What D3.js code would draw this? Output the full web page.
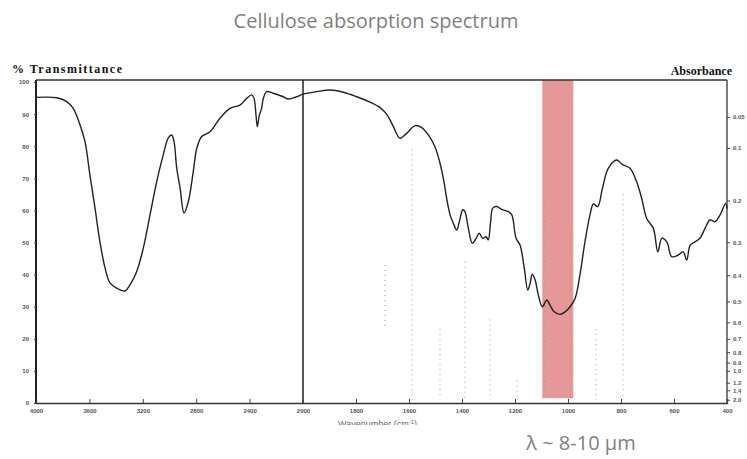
<!DOCTYPE html>
<html>
<head>
<meta charset="utf-8">
<script src="https://cdn.jsdelivr.net/npm/d3@7"></script>
<style>
body { margin:0; background:#fff; }
</style>
</head>
<body>
<div id="the_chart"></div>
<script>
// wavenumber (cm-1) and % transmittance
var wavenumber = [4000,3845,3770,3721,3670,3633,3596,3558,3521,3483,3446,3396,3333,3296,3246,3196,3146,3096,3047,3009,2984,2966,2946,2921,2891,2859,2822,2796,2759,2697,2622,2547,2472,2422,2384,2367,2352,2342,2327,2310,2297,2272,2223,2148,2110,2047,2000,
	1948,1898,1848,1797,1747,1709,1682,1659,1634,1609,1577,1552,1527,1502,1483,1468,1458,1445,1433,1420,1410,1397,1389,1376,1361,1347,1335,1322,1309,1301,1292,1284,1269,1250,1225,1212,1196,1181,1165,1152,1143,1135,1124,1112,1097,1080,1068,1052,1030,1011,992,973,955,936,917,904,888,870,848,816,797,766,741,722,703,678,661,646,627,609,584,565,552,539,521,502,483,464,445,426,405,400];
var transmittance = [95.2,95.1,93.9,91.8,86.6,81.4,71.0,60.7,50.2,42.1,37.4,35.8,34.9,36.8,40.9,48.3,58.6,68.9,77.3,82.6,83.5,81.4,73.2,67.0,59.2,62.7,72.1,79.3,83.0,84.5,88.7,91.8,92.8,94.9,96.0,94.9,89.7,86.1,89.7,91.8,94.9,97.0,96.5,95.4,94.7,95.4,96.2,
	97.0,97.5,96.8,95.4,93.7,92.0,89.7,86.1,82.5,84.0,86.4,85.8,83.5,79.8,74.7,68.9,63.8,58.6,56.0,53.9,56.5,60.2,59.6,54.4,49.8,51.3,52.9,51.3,51.8,50.8,56.5,60.7,61.2,60.3,59.6,58.6,51.3,49.2,42.0,35.2,37.3,40.1,38.3,33.6,30.0,32.1,30.5,28.4,27.6,28.4,30.0,32.6,39.9,50.2,58.6,62.0,61.2,66.9,73.1,75.7,74.4,73.1,68.9,63.8,57.5,54.4,47.1,51.3,50.2,45.6,46.1,47.1,44.5,49.2,50.2,51.3,54.4,57.0,56.5,58.6,62.2,60.5];

// faint dotted columns left on the scan: wavenumber, top %T, bottom %T
var speckWn = [1691,1589,1483,1389,1294,1192,1087,992,894,792];
var speckTop = [43,79,23,44,26,7,63,54,23,65];
var speckBot = [23,1,2,1,1,1,1,1,1,1];

var xTicks = [4000,3600,3200,2800,2400,2000,1800,1600,1400,1200,1000,800,600,400];
var yTicks = [0,10,20,30,40,50,60,70,80,90,100];
var absTicks = [0.05,0.1,0.2,0.3,0.4,0.5,0.6,0.7,0.8,0.9,1.0,1.2,1.4,2.0];
var band = [1097,980];

var title = "Cellulose absorption spectrum";
var note = "\u03bb ~ 8-10 \u00b5m";

gen_vis();

function gen_vis() {
	var w = 747;
	var h = 459;
	var svg = d3.select("#the_chart").append("svg")
				.attr("width",w)
				.attr("height",h);

	var xscale = d3.scaleLinear()
				.domain([4000,2000,400])
				.range([36,303,727]);
	var yscale = d3.scaleLinear()
				.domain([0,100])
				.range([403,82]);

	var top = yscale(100)-2;

	svg.append("defs").append("clipPath")
			.attr("id","scan")
		.append("rect")
			.attr("x",0).attr("y",50)
			.attr("width",w).attr("height",375);

	var g = svg.append("g").attr("clip-path","url(#scan)");

	// highlighted band
	g.append("rect")
			.attr("x",xscale(band[0]))
			.attr("width",xscale(band[1])-xscale(band[0]))
			.attr("y",top)
			.attr("height",yscale(1.5)-top)
			.attr("fill","#e69898");

	g.selectAll(".speck")
			.data(speckWn)
		.enter().append("line")
			.attr("class","speck")
			.attr("x1",function(d){ return xscale(d); })
			.attr("x2",function(d){ return xscale(d); })
			.attr("y1",function(d,i){ return yscale(speckTop[i]); })
			.attr("y2",function(d,i){ return yscale(speckBot[i]); })
			.attr("stroke","#999")
			.attr("stroke-width",1)
			.attr("stroke-dasharray","1,4");

	// frame
	g.append("line")
			.attr("x1",xscale(4000)).attr("x2",xscale(400))
			.attr("y1",top).attr("y2",top)
			.attr("stroke","#333").attr("stroke-width",1.3);
	g.append("line")
			.attr("x1",xscale(2000)).attr("x2",xscale(2000))
			.attr("y1",top).attr("y2",yscale(0))
			.attr("stroke","#222").attr("stroke-width",1.5);
	g.append("line")
			.attr("x1",xscale(400)).attr("x2",xscale(400))
			.attr("y1",top).attr("y2",yscale(0))
			.attr("stroke","#333").attr("stroke-width",1.3);

	var yaxis = d3.axisLeft()
				.scale(yscale)
				.tickValues(yTicks)
				.tickSize(2)
				.tickPadding(5);
	var ya = g.append("g")
			.attr("transform","translate("+xscale(4000)+",0)")
			.call(yaxis);
	ya.select(".domain").attr("stroke","#222").attr("stroke-width",2)
			.attr("d","M0,"+top+"V"+yscale(0));

	var xaxis = d3.axisBottom()
				.scale(xscale)
				.tickValues(xTicks)
				.tickFormat(d3.format("d"))
				.tickSize(-4)
				.tickPadding(6);
	var xa = g.append("g")
			.attr("transform","translate(0,"+yscale(0)+")")
			.call(xaxis);
	xa.select(".domain").attr("stroke","#333").attr("stroke-width",1.3);

	var aaxis = d3.axisRight()
				.scale(yscale)
				.tickValues(absTicks.map(function(a){ return 100*Math.pow(10,-a); }))
				.tickFormat(function(d,i){ return d3.format(".2~f")(absTicks[i]).replace(/^1$/,"1.0").replace(/^2$/,"2.0"); })
				.tickSize(3)
				.tickPadding(3);
	var aa = g.append("g")
			.attr("transform","translate("+xscale(400)+",0)")
			.call(aaxis);
	aa.select(".domain").remove();

	g.selectAll(".tick text")
			.attr("font-family","Liberation Sans, sans-serif")
			.attr("font-size",6)
			.attr("font-weight","bold")
			.attr("fill","#555");
	g.selectAll(".tick line").attr("stroke","#444");

	// spectrum
	var pts = wavenumber.map(function(d,i){ return [d,transmittance[i]]; });
	var line = d3.line()
			.x(function(d){ return xscale(d[0]); })
			.y(function(d){ return yscale(d[1]); })
			.curve(d3.curveCatmullRom.alpha(0.5));
	g.append("path")
			.datum(pts)
			.attr("d",line)
			.attr("fill","none")
			.attr("stroke","#222")
			.attr("stroke-width",1.4);

	// scan labels
	g.append("text")
			.attr("x",12).attr("y",73)
			.attr("font-family","Liberation Serif, serif")
			.attr("font-weight","bold")
			.attr("font-size",12)
			.attr("textLength",110)
			.attr("fill","#111")
			.text("% Transmittance");
	g.append("text")
			.attr("x",732).attr("y",75)
			.attr("text-anchor","end")
			.attr("font-family","Liberation Serif, serif")
			.attr("font-weight","bold")
			.attr("font-size",12)
			.attr("fill","#111")
			.text("Absorbance");
	g.append("text")
			.attr("x",338).attr("y",427)
			.attr("font-family","Liberation Sans, sans-serif")
			.attr("font-size",9)
			.attr("fill","#666")
			.html("Wavenumber (cm<tspan dy='-3' font-size='6'>-1</tspan><tspan dy='3'>)</tspan>");

	// slide texts
	svg.append("text")
			.attr("x",376).attr("y",28)
			.attr("text-anchor","middle")
			.attr("font-family","Open Sans, sans-serif")
			.attr("font-size",20)
			.attr("fill","#7f7f7f")
			.text(title);
	svg.append("text")
			.attr("x",581).attr("y",450)
			.attr("text-anchor","middle")
			.attr("font-family","Open Sans, sans-serif")
			.attr("font-size",20)
			.attr("fill","#7f7f7f")
			.text(note);
}
</script>
</body>
</html>
